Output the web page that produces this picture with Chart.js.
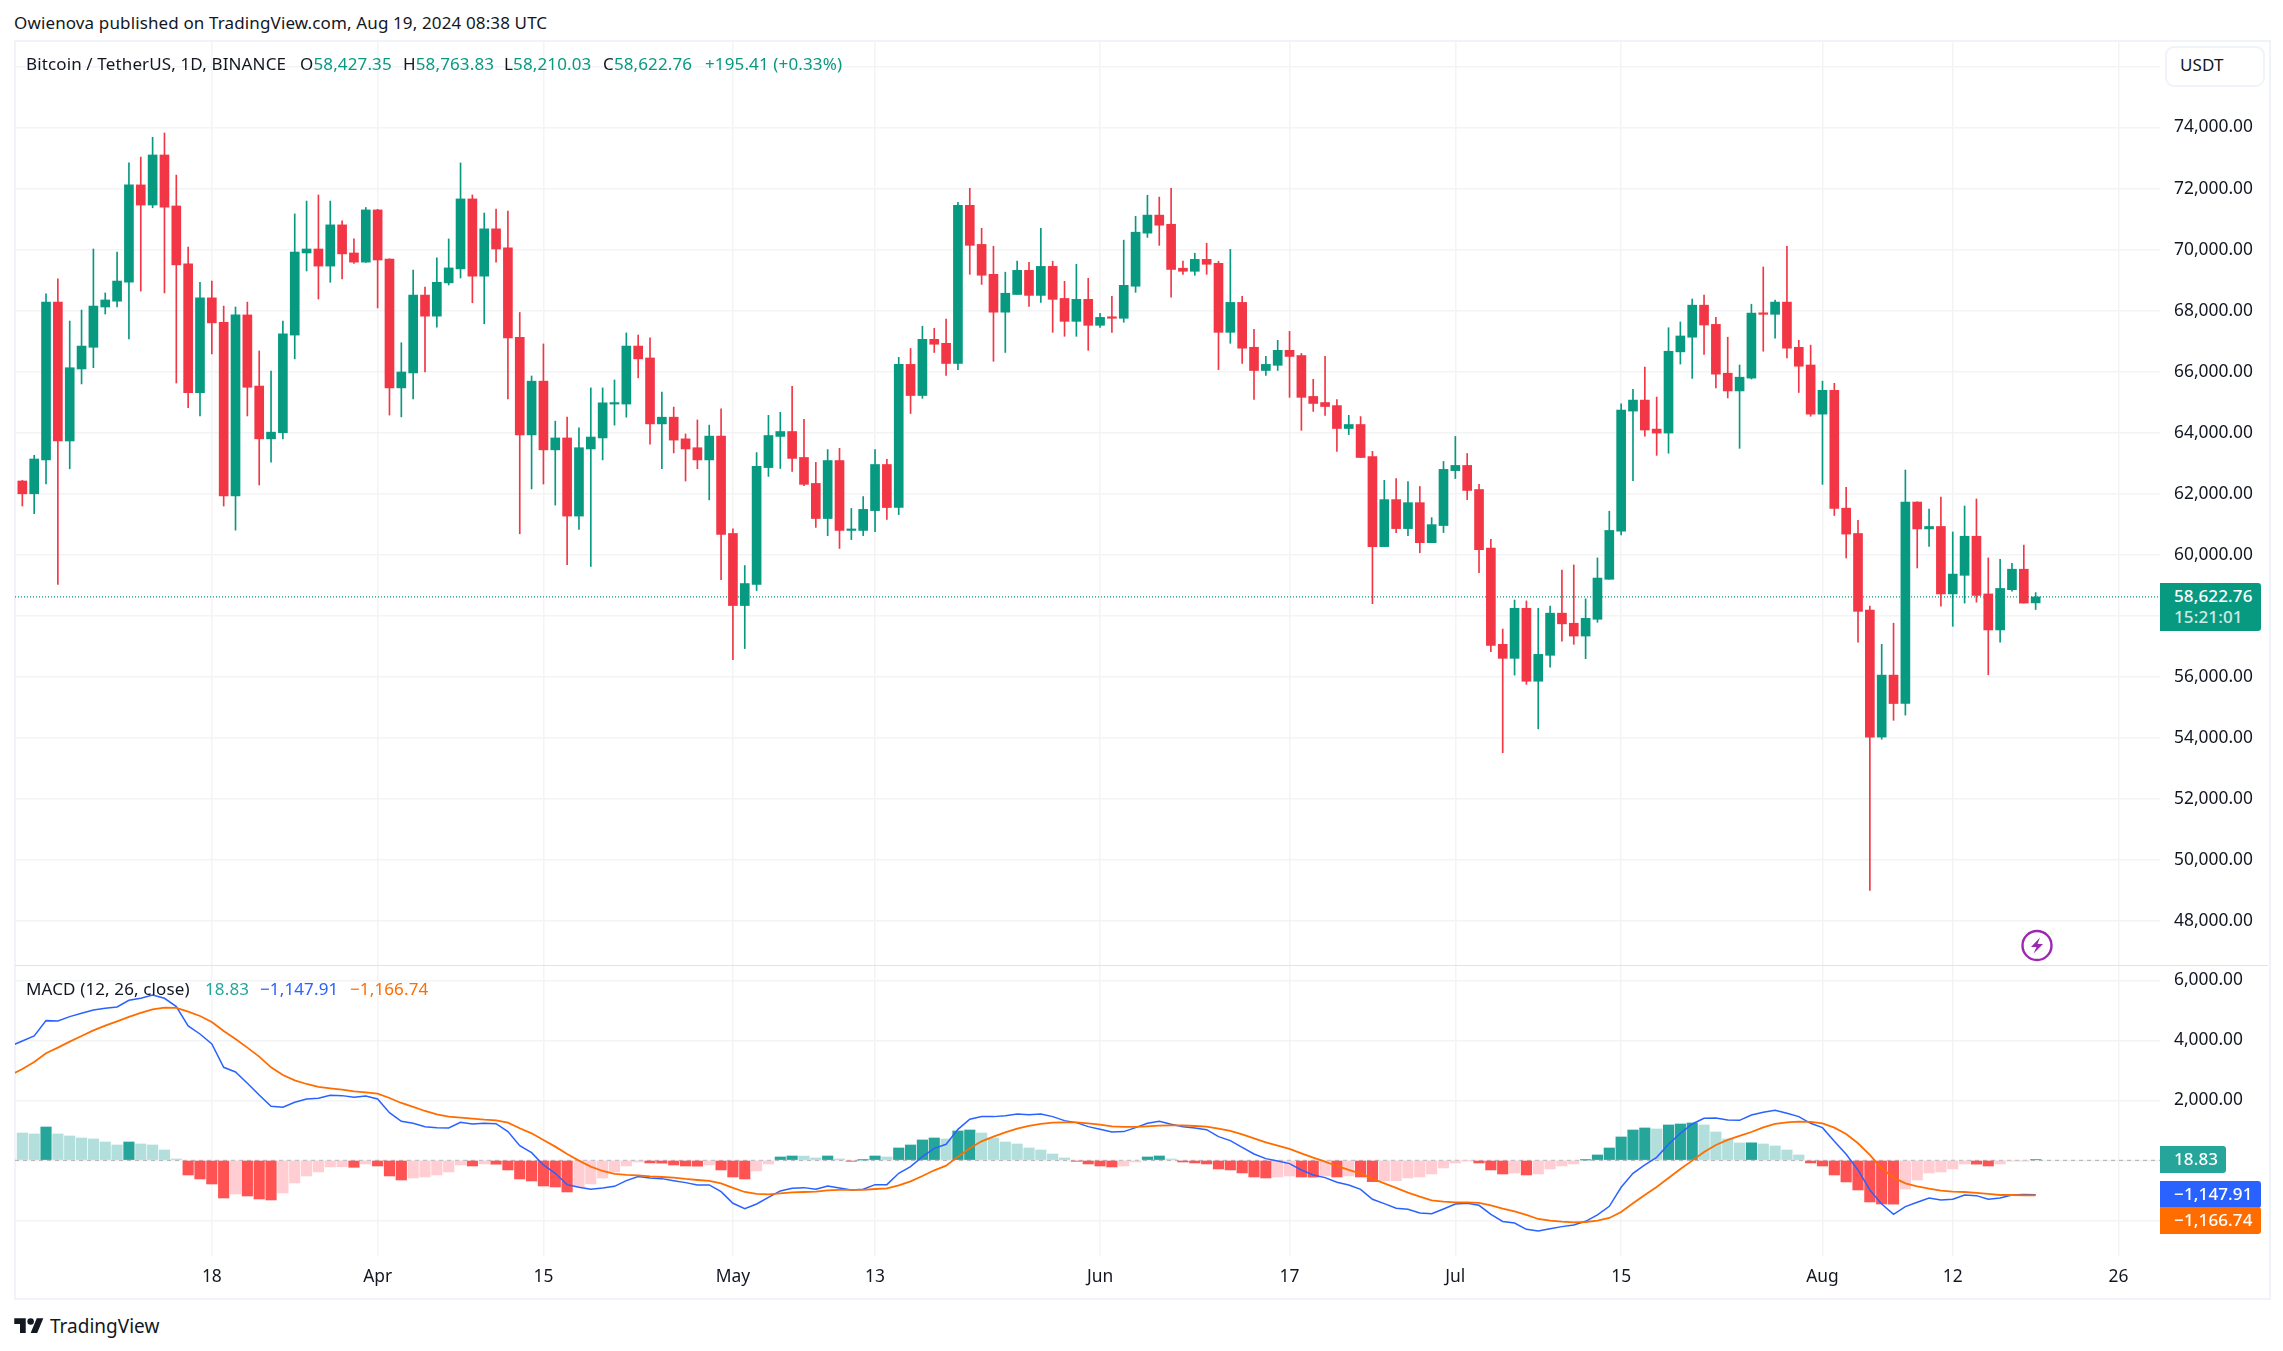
<!DOCTYPE html>
<html>
<head>
<meta charset="utf-8">
<title>BTCUSDT</title>
<script src="https://cdn.jsdelivr.net/npm/chart.js@4"></script>
<style>
  html, body { margin: 0; padding: 0; background: #fff; }
  body { width: 2283px; height: 1351px; position: relative; overflow: hidden;
         font-family: "Noto Sans", sans-serif; font-size: 17px; color: #131722; }
  canvas { position: absolute; left: 15px; }
  .t { position: absolute; white-space: nowrap; line-height: 22px; height: 22px; letter-spacing: .13px; }
  .frame { position: absolute; left: 14px; top: 40px; width: 2253px; height: 1256px; border: 2px solid #f0f3fa; }
  .divider { position: absolute; left: 15px; top: 965px; width: 2253px; height: 1px; background: #e0e3eb; }
  .tag { position: absolute; left: 2160px; color: #fff; border-radius: 0 3px 3px 0; }
  .tag span { position: absolute; left: 14px; white-space: nowrap; line-height: 22px; font-weight: 500; letter-spacing: .13px; }
  .usdt { position: absolute; left: 2165px; top: 46px; width: 96px; height: 37px; border: 2px solid #f0f3fa; border-radius: 9px; background: #fff; }
  .g { color: #089981; }
</style>
</head>
<body>
<div class="frame"></div>
<canvas id="priceChart" width="2253" height="923" style="top:42px"></canvas>
<canvas id="macdChart" width="2253" height="331" style="top:966px"></canvas>
<div class="divider"></div>

<div class="t" style="left:14px;top:12px">Owienova published on TradingView.com, Aug 19, 2024 08:38 UTC</div>
<div class="t" style="left:26px;top:53px">Bitcoin / TetherUS, 1D, BINANCE</div>
<div class="t" style="left:300px;top:53px">O<span class="g">58,427.35</span></div>
<div class="t" style="left:403px;top:53px">H<span class="g">58,763.83</span></div>
<div class="t" style="left:504px;top:53px">L<span class="g">58,210.03</span></div>
<div class="t" style="left:603px;top:53px">C<span class="g">58,622.76</span></div>
<div class="t g" style="left:705px;top:53px">+195.41 (+0.33%)</div>
<div class="usdt"></div>
<div class="t" style="left:2180px;top:54px">USDT</div>

<div class="tag" style="top:583px;width:101px;height:48px;background:#089981">
  <span style="top:2px">58,622.76</span><span style="top:23px;opacity:.8">15:21:01</span>
</div>

<div class="t" style="left:26px;top:978px">MACD (12, 26, close)</div>
<div class="t" style="left:205px;top:978px;color:#26a69a">18.83</div>
<div class="t" style="left:260px;top:978px;color:#2962ff">&minus;1,147.91</div>
<div class="t" style="left:350px;top:978px;color:#ff6d00">&minus;1,166.74</div>

<div class="tag" style="top:1146px;width:66px;height:27px;background:#26a69a"><span style="top:2px">18.83</span></div>
<div class="tag" style="top:1181px;width:101px;height:27px;background:#2962ff"><span style="top:2px">&minus;1,147.91</span></div>
<div class="tag" style="top:1207px;width:101px;height:27px;background:#ff6d00"><span style="top:2px">&minus;1,166.74</span></div>

<svg style="position:absolute;left:2020px;top:929px" width="34" height="34" viewBox="0 0 34 34">
  <circle cx="17" cy="16.5" r="14.5" fill="#fff" stroke="#9c27b0" stroke-width="2.4"/>
  <path d="M20 8.5 L11 18 L16.5 18 L13.5 24.5 L23 15 L17.5 15 Z" fill="#9c27b0"/>
</svg>

<svg style="position:absolute;left:14px;top:1315px" width="30" height="18" viewBox="0 0 36 22">
  <path d="M14 22H7V11H0V4h14v18zM28 22h-8l7.5-18h8L28 22z" fill="#131722"/>
  <circle cx="20" cy="8" r="4" fill="#131722"/>
</svg>
<div class="t" style="left:50px;top:1315px;font-size:19px;letter-spacing:0">TradingView</div>

<script>
// daily candles, 2 Mar 2024 to 19 Aug 2024
const opens = [
  62420,62000,63110,68280,63730,66090,66800,68120,68310,68930,
  72120,71460,73100,71430,69530,65310,68420,67620,61930,67860,
  65530,63800,64000,67200,69890,70020,69460,70810,69890,69590,
  71300,69690,65470,65960,68510,67820,68910,69370,71660,69130,
  70680,70060,67130,63930,65690,63440,63830,61270,63470,63830,
  64940,64940,66840,66450,64290,64510,63800,63510,63110,63890,
  60700,58340,59030,62860,63880,64040,63190,62340,61190,63090,
  60800,60800,61450,62960,61550,66240,65220,67060,66930,66270,
  71450,70170,69190,67950,68530,69320,68500,69450,68400,67650,
  68370,67520,67780,67750,68800,70540,71130,70830,69390,69290,
  69680,69550,67290,68270,66800,66040,66210,66700,66530,65190,
  64990,64890,64140,64270,63220,60270,61810,60860,61710,60400,
  60960,62760,62930,62140,60220,57070,56610,58250,55860,56710,
  58090,57760,57340,57890,59200,60780,64710,65070,64120,63990,
  66650,67130,68180,67550,65950,65370,65790,67920,67880,68280,
  66800,66220,64610,65390,61530,60700,58190,54030,56060,55130,
  61730,60850,60930,58720,59330,60610,58720,57540,58860,59530,
  58427.35
];
const highs = [
  62440,63260,68550,69040,67660,68020,70020,68580,69920,72840,
  73030,73680,73820,72440,70080,68930,68970,68150,68120,68280,
  66680,66020,67660,71170,71590,71790,71590,70940,70350,71380,
  71320,69700,66950,69330,68770,69730,70350,72840,71790,71200,
  71330,71260,67940,65860,66910,64380,64510,64160,65470,65470,
  65730,67270,67200,67110,65330,64840,63960,64420,64250,64780,
  60850,59650,63350,64570,64670,65520,64440,63030,63450,63490,
  61520,61910,63450,63130,66470,66760,67490,67420,67720,71550,
  72010,70700,70110,69260,69620,69580,70700,69620,68960,69520,
  69060,67910,68470,70310,71090,71780,71720,72010,69620,69880,
  70210,69620,70010,68470,67390,66500,67030,67320,66600,65750,
  66500,65090,64570,64530,63390,62440,62500,62400,62240,61220,
  63060,63880,63320,62310,60510,57570,58520,58490,58250,58320,
  59500,59670,58560,59900,61430,64950,65420,66150,65170,67440,
  67630,68380,68510,67780,67130,66220,68210,69430,68350,70110,
  67030,66870,65690,65620,62210,61130,58320,57070,57760,62780,
  61740,61500,61890,60750,61600,61830,59900,59850,59720,60320,
  58763.83
];
const lows = [
  61600,61350,62320,59030,62820,65600,66130,67890,68120,67070,
  68640,71370,68580,65630,64820,64550,66580,61600,60810,64550,
  62290,63040,63800,66420,69300,68380,68930,69040,69550,69580,
  68090,64580,64520,65110,65990,67460,68840,69070,68260,67570,
  69590,65110,60690,62160,62320,61630,59680,60830,59620,63110,
  64250,64510,65800,63630,62820,63340,62420,62820,61800,59190,
  56570,56930,58830,62570,62830,62730,62270,60900,60630,60210,
  60500,60630,60760,61160,61320,64630,65130,66630,65880,66070,
  69190,68860,66340,66630,68530,68140,68270,67290,67160,67160,
  66700,67450,67290,67620,68600,70400,70140,68440,69190,69160,
  69190,66070,66930,66270,65090,65880,66040,65160,64080,64700,
  64570,63390,63940,63190,58400,60270,60730,60630,60070,60400,
  60730,62500,61810,59420,56830,53520,56060,55760,54300,56320,
  57170,57070,56600,57790,59200,60650,62430,63890,63260,63330,
  66250,65780,66570,65470,65140,63490,65760,66670,67100,66450,
  65320,64540,62310,61290,59900,57140,49010,53960,54580,54750,
  59570,60280,58320,57660,58420,58450,56070,57140,58810,58420,
  58210.03
];
const closes = [
  62000,63140,68280,63730,66130,66840,68150,68350,68970,72120,
  71460,73100,71390,69500,65310,68420,67600,61930,67860,65490,
  63800,64020,67240,69920,70020,69460,70810,69860,69590,71300,
  69660,65470,65990,68510,67820,68930,69400,71660,69130,70680,
  70020,67110,63930,65690,63440,63830,61270,63510,63860,64980,
  64980,66840,66420,64290,64510,63760,63470,63110,63890,60670,
  58340,59060,62900,63910,64040,63160,62310,61190,63090,60800,
  60830,61490,62960,61550,66240,65220,67060,66900,66270,71450,
  70140,69160,67950,68570,69320,68500,69450,68370,67650,68370,
  67520,67780,67750,68830,70570,71130,70800,69350,69290,69680,
  69520,67290,68270,66770,66040,66240,66700,66500,65160,64960,
  64860,64140,64270,63190,60270,61810,60860,61710,60400,60990,
  62800,62930,62110,60170,57030,56610,58250,55860,56740,58090,
  57740,57340,57920,59240,60800,64740,65070,64090,63990,66670,
  67170,68180,67530,65920,65370,65820,67920,67880,68280,66770,
  66180,64610,65390,61520,60680,58150,54030,56060,55130,61730,
  60850,60930,58720,59370,60610,58670,57540,58900,59530,58420,
  58622.76
];
const lastPrice = 58622.76;

// macd pane, histogram has one value per candle
const histogram = [
  911,878,1111,878,811,744,711,611,511,611,
  544,511,344,44,-489,-622,-789,-1256,-1122,-1189,
  -1289,-1322,-1089,-756,-522,-389,-222,-215,-233,-122,
  -189,-522,-656,-589,-556,-489,-389,-156,-189,-122,
  -130,-322,-622,-689,-856,-889,-1056,-889,-789,-589,
  -389,-189,-56,-89,-95,-156,-189,-195,-156,-322,
  -556,-622,-356,-122,111,144,140,78,144,44,
  -33,11,144,111,411,511,678,744,711,978,
  1011,911,744,611,544,411,344,211,78,-33,
  -122,-189,-222,-189,-56,111,144,44,-56,-89,
  -122,-289,-322,-422,-556,-589,-556,-522,-556,-561,
  -522,-556,-522,-556,-711,-689,-683,-589,-556,-456,
  -256,-89,-11,-89,-322,-456,-422,-489,-456,-289,
  -189,-122,11,178,411,778,1011,1078,1044,1178,
  1211,1244,1178,944,711,578,583,544,478,344,
  178,-89,-189,-489,-722,-989,-1389,-1456,-1461,-956,
  -656,-422,-389,-289,-122,-128,-189,-122,-22,-19,
  18.83
];
// both lines have one value more: the day before the first candle
const macdLine = [
  3811,3978,4144,4656,4644,4789,4900,5011,5067,5111,
  5333,5400,5511,5400,5122,4478,4211,3878,3100,2944,
  2567,2178,1800,1767,1933,2044,2067,2167,2156,2100,
  2144,2044,1589,1300,1233,1122,1089,1078,1267,1211,
  1233,1222,956,489,256,-156,-433,-811,-900,-967,
  -922,-867,-678,-544,-589,-611,-678,-744,-822,-822,
  -1044,-1433,-1611,-1456,-1233,-1022,-933,-911,-967,-856,
  -922,-989,-967,-811,-811,-433,-211,122,400,533,
  1033,1367,1456,1456,1489,1544,1522,1544,1456,1322,
  1256,1122,1033,944,956,1089,1233,1300,1200,1122,
  1078,1022,789,656,433,211,56,-22,-111,-322,
  -489,-578,-733,-822,-967,-1300,-1444,-1600,-1633,-1756,
  -1778,-1622,-1456,-1433,-1500,-1800,-2040,-2090,-2300,-2356,
  -2278,-2211,-2156,-2033,-1822,-1533,-900,-433,-156,100,
  533,900,1211,1400,1411,1344,1333,1511,1600,1667,
  1567,1456,1233,1089,633,200,-322,-989,-1456,-1800,
  -1544,-1400,-1256,-1322,-1300,-1156,-1178,-1300,-1256,-1156,
  -1144,-1147.91
];
const signalLine = [
  2844,3044,3278,3567,3756,3956,4144,4333,4489,4633,
  4778,4911,5033,5089,5078,4956,4811,4611,4311,4044,
  3756,3456,3100,2844,2667,2544,2444,2400,2356,2300,
  2267,2222,2078,1911,1778,1644,1533,1456,1422,1389,
  1356,1333,1256,1067,900,678,456,211,-11,-211,
  -356,-456,-489,-500,-533,-556,-578,-622,-656,-689,
  -767,-922,-1056,-1122,-1133,-1100,-1067,-1056,-1044,-1000,
  -989,-989,-989,-956,-933,-833,-700,-522,-333,-178,
  122,400,633,789,933,1056,1144,1211,1256,1267,
  1267,1233,1189,1133,1111,1111,1133,1156,1167,1167,
  1144,1122,1056,978,867,733,600,489,378,233,
  89,-44,-189,-322,-444,-611,-767,-922,-1078,-1211,
  -1333,-1378,-1400,-1400,-1422,-1500,-1611,-1700,-1822,-1956,
  -2011,-2044,-2067,-2056,-2011,-1922,-1722,-1433,-1156,-889,
  -589,-289,-11,278,511,678,811,944,1100,1211,
  1267,1289,1278,1233,1089,878,567,178,-267,-578,
  -767,-867,-944,-1011,-1044,-1056,-1089,-1122,-1156,-1156,
  -1166,-1166.74
];

// axes
const dateTickIndex = [16, 30, 44, 60, 72, 91, 107, 121, 135, 152, 163, 177];
const dateTickLabels = ['18', 'Apr', '15', 'May', '13', 'Jun', '17', 'Jul', '15', 'Aug', '12', '26'];
const priceTicks = [76000, 74000, 72000, 70000, 68000, 66000, 64000, 62000, 60000, 58000, 56000, 54000, 52000, 50000, 48000];
const priceTickLabels = ['', '74,000.00', '72,000.00', '70,000.00', '68,000.00', '66,000.00', '64,000.00', '62,000.00', '60,000.00', '', '56,000.00', '54,000.00', '52,000.00', '50,000.00', '48,000.00'];
const macdTicks = [6000, 4000, 2000, 0, -2000];
const macdTickLabels = ['6,000.00', '4,000.00', '2,000.00', '', ''];

const xMin = -0.62, xMax = 180.5;
const gridColor = '#f3f4f6';
const textColor = '#131722';
const upColor = '#089981', downColor = '#f23645';
const tickFont = { family: '"Noto Sans", sans-serif', size: 17.4 };

const candleColors = closes.map((c, i) => c >= opens[i] ? upColor : downColor);
const histColors = histogram.map((v, i) => {
  const prev = i ? histogram[i - 1] : Infinity;
  if (v >= 0) return v > prev ? '#26a69a' : '#b2dfdb';
  return v < prev && i ? '#ff5252' : '#ffcdd2';
});

function xAxis(showLabels, axisHeight) {
  return {
    type: 'linear', min: xMin, max: xMax, offset: false,
    grid: { color: gridColor, lineWidth: 1.5, drawTicks: false, offset: false },
    border: { display: false },
    afterBuildTicks: s => { s.ticks = dateTickIndex.map(v => ({ value: v })); },
    afterFit: s => { s.height = axisHeight; s.paddingLeft = 0; s.paddingRight = 0; },
    ticks: {
      display: showLabels, autoSkip: false, maxRotation: 0, padding: 11,
      color: textColor, font: tickFont,
      callback: (v, i) => dateTickLabels[i]
    }
  };
}

function yAxis(min, max, values, labels) {
  return {
    type: 'linear', position: 'right', min: min, max: max,
    grid: { color: gridColor, lineWidth: 1.5, drawTicks: false },
    border: { display: false },
    afterBuildTicks: s => { s.ticks = values.map(v => ({ value: v })); },
    afterFit: s => { s.width = 108; s.paddingTop = 0; s.paddingBottom = 0; },
    ticks: {
      autoSkip: false, padding: 14, color: textColor, font: tickFont,
      callback: (v, i) => labels[i]
    }
  };
}

const baseOptions = {
  responsive: false,
  devicePixelRatio: 1,
  animation: false,
  events: [],
  layout: { padding: 0 },
  plugins: { legend: { display: false }, tooltip: { enabled: false } }
};

new Chart('priceChart', {
  type: 'bar',
  data: {
    datasets: [
      {
        label: 'last',
        type: 'line',
        data: [{ x: xMin, y: lastPrice }, { x: xMax, y: lastPrice }],
        borderColor: upColor, borderWidth: 1.3, borderDash: [1, 2],
        pointRadius: 0, order: 3
      },
      {
        label: 'wick',
        data: lows.map((l, i) => ({ x: i, y: [l, highs[i]] })),
        backgroundColor: candleColors, barThickness: 1, grouped: false, order: 2
      },
      {
        label: 'body',
        data: opens.map((o, i) => ({ x: i, y: [o, closes[i]] })),
        backgroundColor: candleColors, barThickness: 9, minBarLength: 1.5, grouped: false, order: 1
      }
    ]
  },
  options: {
    ...baseOptions,
    scales: { x: xAxis(false, 0), y: yAxis(46564, 76801, priceTicks, priceTickLabels) }
  }
});

new Chart('macdChart', {
  type: 'bar',
  data: {
    datasets: [
      {
        label: 'zero',
        type: 'line',
        data: [{ x: xMin, y: 0 }, { x: xMax, y: 0 }],
        borderColor: 'rgba(120,123,134,.6)', borderWidth: 1, borderDash: [4, 4],
        pointRadius: 0, order: 4
      },
      {
        label: 'Histogram',
        data: histogram.map((v, i) => ({ x: i, y: v })),
        backgroundColor: histColors, barThickness: 10.5, grouped: false, order: 3
      },
      {
        label: 'MACD',
        type: 'line',
        data: macdLine.map((v, i) => ({ x: i - 1, y: v })),
        borderColor: '#2962ff', borderWidth: 1.5, pointRadius: 0, tension: 0, order: 2
      },
      {
        label: 'Signal',
        type: 'line',
        data: signalLine.map((v, i) => ({ x: i - 1, y: v })),
        borderColor: '#ff6d00', borderWidth: 1.8, pointRadius: 0, tension: 0, order: 1
      }
    ]
  },
  options: {
    ...baseOptions,
    scales: { x: xAxis(true, 41), y: yAxis(-3190, 6477, macdTicks, macdTickLabels) }
  }
});
</script>
</body>
</html>
